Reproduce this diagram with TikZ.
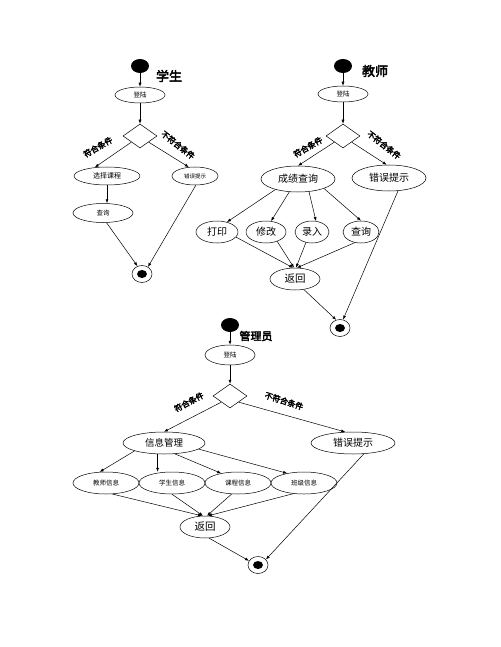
\documentclass[tikz,border=0pt]{standalone}
\usepackage{fontspec}
\newfontfamily\cjk{Noto Sans CJK SC}
\newfontfamily\cjkb{Noto Sans CJK SC}[FakeBold=3]
\usetikzlibrary{arrows.meta, shapes.geometric}
\begin{document}
\begin{tikzpicture}[x=1pt, y=-1pt, line width=0.5pt, >={Latex[length=4pt,width=3pt]},
  act/.style 2 args={shape=ellipse, draw, inner sep=0pt, minimum width=#1, minimum height=#2},
  txt/.style={font=\cjk\fontsize{#1}{#1}\selectfont},
  startdot/.style={shape=ellipse, fill=black, inner sep=0pt, minimum width=18pt, minimum height=14pt},
  enddot/.style={shape=ellipse, draw, inner sep=0pt, minimum width=20pt, minimum height=17pt,
    path picture={\fill (path picture bounding box.center) ellipse (5pt and 4pt);}},
  choice/.style={shape=diamond, draw, inner sep=0pt, minimum width=34pt, minimum height=24pt},
  cond/.style={font=\cjkb\fontsize{8}{8}\selectfont, inner sep=0pt},
  role/.style={font=\cjkb\fontsize{#1}{#1}\selectfont, inner sep=0pt}]
    \useasboundingbox (0,0) rectangle (500,647);
    % student
    \node[startdot] (s0) at (140,66) {};
    \node[role=13] (sr) at (169,76) {学生};
    \node[act={50pt}{16pt}, txt=6.5] (s1) at (140,95) {登陆};
    \node[choice] (s2) at (140,136) {};
    \node[act={66pt}{18pt}, txt=7] (s3) at (107,176) {选择课程};
    \node[act={46pt}{18pt}, txt=5.5] (s4) at (195,176) {错误提示};
    \node[act={60pt}{19pt}, txt=6.5] (s5) at (103,213) {查询};
    \node[enddot] (s6) at (142,274) {};
    \node[cond, rotate=30] (sc1) at (98,147) {符合条件};
    \node[cond, rotate=-38] (sc2) at (178,145) {不符合条件};
    \draw[->] (s0) -- (s1);
    \draw[->] (s1) -- (s2);
    \draw[->] (s2.south west) -- (s3.145);
    \draw[->] (s2.south east) -- (s4.125);
    \draw[->] (s3.south) -- (s3.south |- s5.north);
    \draw[->] (s5.290) -- (s6.120);
    \draw[->] (s4.275) -- (s6.50);

    % teacher
    \node[startdot] (t0) at (343,66) {};
    \node[role=13] (tr) at (375,71) {教师};
    \node[act={50pt}{16pt}, txt=6.5] (t1) at (343,94) {登陆};
    \node[choice] (t2) at (343,136) {};
    \node[act={74pt}{26pt}, txt=10] (t3) at (298,179) {成绩查询};
    \node[act={74pt}{26pt}, txt=10] (t4) at (389,178) {错误提示};
    \node[act={42pt}{22pt}, txt=10] (t5) at (217,232) {打印};
    \node[act={40pt}{22pt}, txt=10] (t6) at (266,232) {修改};
    \node[act={34pt}{22pt}, txt=10] (t7) at (312,232) {录入};
    \node[act={36pt}{22pt}, txt=10] (t8) at (361,232) {查询};
    \node[act={50pt}{22pt}, txt=10.5] (t9) at (295,279) {返回};
    \node[enddot] (t10) at (340,328) {};
    \node[cond, rotate=30] (tc1) at (308,147) {符合条件};
    \node[cond, rotate=-38] (tc2) at (384,145) {不符合条件};
    \draw[->] (t0) -- (t1);
    \draw[->] (t1) -- (t2);
    \draw[->] (t2.south west) -- (t3.north);
    \draw[->] (t2.south east) -- (t4.100);
    \draw[->] (t3.205) -- (t5.45);
    \draw[->] (t3.236) -- (t6.65);
    \draw[->] (t3.311) -- (t7.70);
    \draw[->] (t3.340) -- (t8.north);
    \draw[->] (t5.345) -- (t9.100);
    \draw[->] (t6.320) -- (t9.95);
    \draw[->] (t7.240) -- (t9.85);
    \draw[->] (t8.240) -- (t9.80);
    \draw[->] (t9.310) -- (t10.115);
    \draw[->] (t4.305) -- (t10.70);

    % admin
    \node[startdot] (a0) at (230,325) {};
    \node[role=11] (ar) at (256,336) {管理员};
    \node[act={50pt}{20pt}, txt=6.5] (a1) at (230,355) {登陆};
    \node[choice] (a2) at (230,396) {};
    \node[act={82pt}{22pt}, txt=9.5] (a3) at (164,443) {信息管理};
    \node[act={84pt}{22pt}, txt=10] (a4) at (353,443) {错误提示};
    \node[act={66pt}{22pt}, txt=6.5] (a5) at (106,483) {教师信息};
    \node[act={66pt}{22pt}, txt=6.5] (a6) at (172,483) {学生信息};
    \node[act={66pt}{22pt}, txt=6.5] (a7) at (238,483) {课程信息};
    \node[act={66pt}{22pt}, txt=6.5] (a8) at (304,483) {班级信息};
    \node[act={50pt}{22pt}, txt=10.5] (a9) at (205,527) {返回};
    \node[enddot] (a10) at (258,565) {};
    \node[cond, rotate=28] (ac1) at (189,402) {符合条件};
    \node[cond, rotate=-18] (ac2) at (284,401) {不符合条件};
    \draw[->] (a0) -- (a1);
    \draw[->] (a1) -- (a2);
    \draw[->] (a2.south west) -- (a3.north);
    \draw[->] (a2.south east) -- (a4.125);
    \draw[->] (a3.195) -- (a5.120);
    \draw[->] (a3.240) -- (a3.240 |- a6.north);
    \draw[->] (a3.315) -- (a7.150);
    \draw[->] (a3.350) -- (a8.150);
    \draw[->] (a5.300) -- (a9.105);
    \draw[->] (a6.south) -- (a9.100);
    \draw[->] (a7.240) -- (a9.80);
    \draw[->] (a8.225) -- (a9.75);
    \draw[->] (a9.290) -- (a10.155);
    \draw[->] (a4.315) -- (a10.35);
  \end{tikzpicture}
\end{document}
